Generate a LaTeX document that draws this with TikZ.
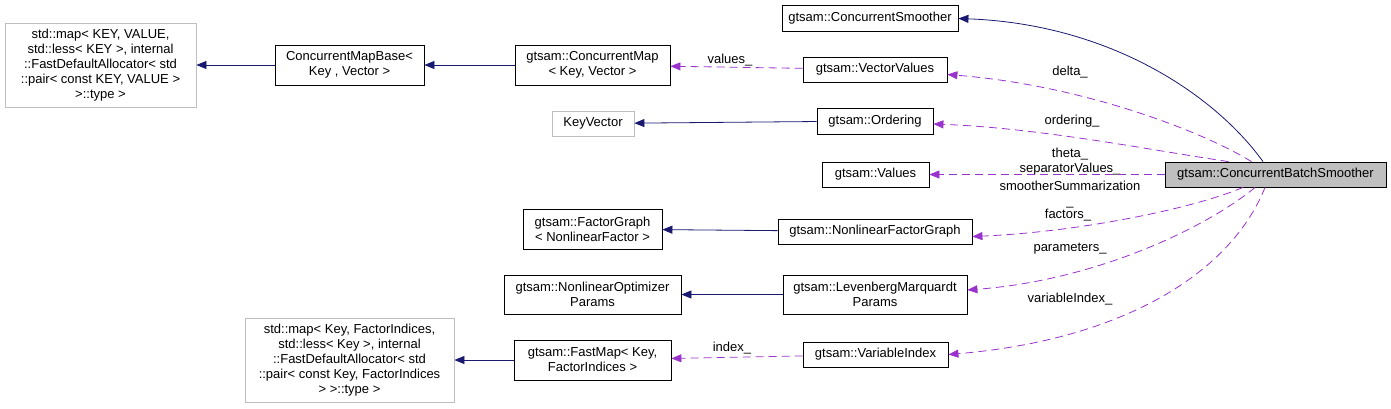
\documentclass[tikz,border=0pt]{standalone}
\usepackage{fontspec}
\setmainfont{Liberation Sans}
\definecolor{edgeblue}{HTML}{191970}
\definecolor{edgepurple}{HTML}{9A32CD}
\definecolor{boxgray}{HTML}{BFBFBF}
\usetikzlibrary{arrows.meta, calc}
\tikzset{
	cls/.style={rectangle, draw=black, line width=0.8pt, fill=white, align=center, inner sep=0pt, font=\fontsize{13}{15}\selectfont},
	extcls/.style={cls, draw=boxgray},
	maincls/.style={cls, fill=boxgray},
	inherit/.style={-{Triangle[length=10pt, width=8pt]}, line width=0.8pt, draw=edgeblue},
	usage/.style={-{Triangle[length=10pt, width=8pt]}, line width=0.8pt, draw=edgepurple, dash pattern=on 8pt off 5pt},
	elabel/.style={align=center, inner sep=0pt, font=\fontsize{13}{15}\selectfont},
}

\begin{document}
\begin{tikzpicture}[x=1pt, y=-1pt]
		\useasboundingbox (0,0) rectangle (1391,408);
		\node[extcls, minimum width=191pt, minimum height=84pt] (stdmapA) at (100.5,65) {std::map< KEY, VALUE,\\ std::less< KEY >, internal\\::FastDefaultAllocator< std\\::pair< const KEY, VALUE >\\>::type >};
		\node[cls, minimum width=149pt, minimum height=40pt] (mapbase) at (349.5,65) {ConcurrentMapBase<\\Key , Vector >};
		\node[cls, minimum width=155pt, minimum height=40pt] (cmap) at (592.5,65) {gtsam::ConcurrentMap\\< Key, Vector >};
		\node[cls, minimum width=176pt, minimum height=26pt] (csmoother) at (870,18.5) {gtsam::ConcurrentSmoother};
		\node[cls, minimum width=144pt, minimum height=25pt] (vvalues) at (875,69.5) {gtsam::VectorValues};
		\node[extcls, minimum width=82pt, minimum height=25pt] (keyvec) at (593,123.5) {KeyVector};
		\node[cls, minimum width=116pt, minimum height=26pt] (ordering) at (875,121) {gtsam::Ordering};
		\node[cls, minimum width=107pt, minimum height=25pt] (values) at (875.5,174.5) {gtsam::Values};
		\node[maincls, minimum width=221pt, minimum height=25pt] (cbs) at (1275.5,174.5) {gtsam::ConcurrentBatchSmoother};
		\node[cls, minimum width=139pt, minimum height=40pt] (fgraph) at (592.5,229) {gtsam::FactorGraph\\< NonlinearFactor >};
		\node[cls, minimum width=194pt, minimum height=25pt] (nfg) at (875,231.5) {gtsam::NonlinearFactorGraph};
		\node[cls, minimum width=177pt, minimum height=39pt] (nopt) at (592.5,294.5) {gtsam::NonlinearOptimizer\\Params};
		\node[cls, minimum width=184pt, minimum height=39pt] (lmp) at (875,294.5) {gtsam::LevenbergMarquardt\\Params};
		\node[cls, minimum width=157pt, minimum height=40pt] (fmap) at (592.5,360) {gtsam::FastMap< Key,\\FactorIndices >};
		\node[cls, minimum width=145pt, minimum height=25pt] (vindex) at (875.5,354.5) {gtsam::VariableIndex};
		\node[extcls, minimum width=209pt, minimum height=84pt] (stdmapB) at (349.5,360) {std::map< Key, FactorIndices,\\ std::less< Key >, internal\\::FastDefaultAllocator< std\\::pair< const Key, FactorIndices\\> >::type >};
		\node[elabel] (lvalues) at (730,60) {values\_};
		\node[elabel] (lindex) at (732,348) {index\_};
		\node[elabel] (ldelta) at (1070,72) {delta\_};
		\node[elabel] (lordering) at (1072,121) {ordering\_};
		\node[elabel] (ltheta) at (1070,177.7) {theta\_\\separatorValues\_\\[3pt]smootherSummarization\\\_};
		\node[elabel] (lfactors) at (1068,215) {factors\_};
		\node[elabel] (lparams) at (1070,249) {parameters\_};
		\node[elabel] (lvarindex) at (1070,299) {variableIndex\_};
		\foreach \a/\b in {mapbase/stdmapA, cmap/mapbase, ordering/keyvec, nfg/fgraph, lmp/nopt, fmap/stdmapB}{\draw[inherit] (\a) -- (\b);}
		\draw[inherit] ($(cbs.north)+(-12.5,0)$) .. controls (1215,95) and (1110,24) .. (csmoother.east);
		\draw[usage] (vvalues) -- (cmap);
		\draw[usage] (vindex) -- (fmap);
		\draw[usage] (cbs) -- (values);
		\draw[usage] ($(cbs.north)+(-24,0)$) .. controls (1200,130) and (1080,85) .. ($(vvalues.east)+(0,5)$);
		\draw[usage] ($(cbs.north)+(-47,0)$) .. controls (1150,150) and (1040,128) .. ($(ordering.east)+(0,3)$);
		\draw[usage] ($(cbs.south)+(-32.5,0)$) .. controls (1195,208) and (1080,232) .. ($(nfg.east)+(0,5)$);
		\draw[usage] ($(cbs.south)+(-20.5,0)$) .. controls (1210,225) and (1100,280) .. ($(lmp.east)+(0,-4.5)$);
		\draw[usage] ($(cbs.south)+(-10.5,0)$) .. controls (1230,275) and (1120,340) .. (vindex.east);
	\end{tikzpicture}
\end{document}
